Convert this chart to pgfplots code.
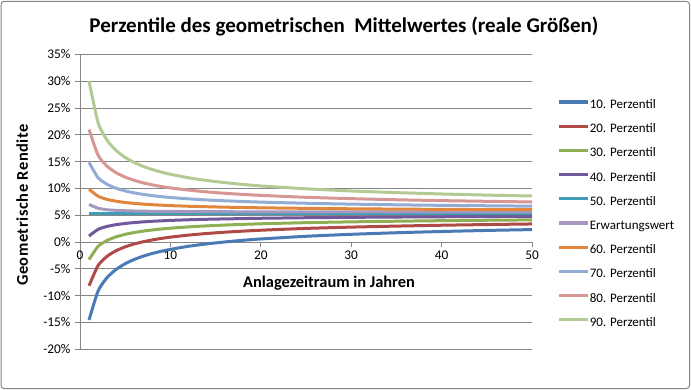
\documentclass[border=0pt]{standalone}
\usepackage{pgfplots}
\pgfplotsset{compat=1.18}
\usepackage{pgfplotstable}
\usepackage{fontspec}
\setmainfont{Carlito}

\definecolor{axisgray}{RGB}{134,134,134}
\definecolor{c10}{HTML}{4A7AB5}
\definecolor{c20}{HTML}{B04A47}
\definecolor{c30}{HTML}{8FAF54}
\definecolor{c40}{HTML}{71589A}
\definecolor{c50}{HTML}{3F9DB8}
\definecolor{cE}{HTML}{A597C0}
\definecolor{c60}{HTML}{E0863D}
\definecolor{c70}{HTML}{93ACD6}
\definecolor{c80}{HTML}{D69694}
\definecolor{c90}{HTML}{B3CB93}

\pgfplotstableread{
T   p10    p20   p30   p40   p50   E     p60   p70    p80    p90
1  -14.53 -8.16 -3.27  1.12  5.30  7.00  9.86  14.85  20.97  30.00
2   -9.13 -4.38 -0.81  2.36  5.30  6.30  8.54  11.99  16.18  22.26
3   -6.62 -2.66  0.30  2.91  5.30  6.02  7.95  10.76  14.13  18.97
4   -5.10 -1.61  0.97  3.24  5.30  5.90  7.61  10.02  12.92  17.06
5   -4.04 -0.90  1.43  3.46  5.30  5.83  7.37   9.53  12.10  15.77
6   -3.25 -0.36  1.77  3.63  5.30  5.78  7.20   9.16  11.50  14.83
7   -2.63  0.05  2.04  3.76  5.30  5.75  7.07   8.88  11.03  14.10
8   -2.13  0.39  2.25  3.87  5.30  5.73  6.96   8.65  10.66  13.52
9   -1.72  0.67  2.43  3.95  5.30  5.71  6.87   8.46  10.35  13.04
10  -1.37  0.91  2.58  4.03  5.30  5.70  6.79   8.30  10.09  12.63
12  -0.79  1.29  2.82  4.15  5.30  5.68  6.67   8.05   9.68  11.98
14  -0.35  1.59  3.01  4.24  5.30  5.66  6.58   7.85   9.35  11.48
16   0.01  1.83  3.16  4.31  5.30  5.65  6.50   7.69   9.09  11.08
18   0.32  2.03  3.29  4.37  5.30  5.64  6.44   7.56   8.88  10.74
20   0.57  2.20  3.40  4.43  5.30  5.63  6.38   7.44   8.70  10.46
25   1.07  2.54  3.61  4.53  5.30  5.62  6.28   7.23   8.34   9.92
30   1.44  2.78  3.76  4.60  5.30  5.61  6.20   7.07   8.09   9.52
35   1.73  2.97  3.88  4.66  5.30  5.61  6.14   6.94   7.88   9.21
40   1.96  3.13  3.98  4.71  5.30  5.60  6.09   6.84   7.72   8.96
45   2.16  3.26  4.06  4.75  5.30  5.60  6.05   6.76   7.59   8.75
50   2.32  3.37  4.13  4.78  5.30  5.60  6.02   6.69   7.47   8.58
}\data

\begin{document}
\begin{tikzpicture}
\useasboundingbox (0bp,0bp) rectangle (691bp,390bp);
\draw[color=axisgray, line width=1bp, rounded corners=3bp] (1bp,1.5bp) rectangle (689.5bp,388.5bp);
\begin{axis}[
  at={(80bp,40.7bp)}, anchor=south west,
  scale only axis, width=452bp, height=295bp,
  xmin=0, xmax=50, ymin=-20, ymax=35,
  axis x line*=middle, axis y line*=left,
  hide obscured x ticks=false, hide obscured y ticks=false,
  axis line style={color=axisgray, line width=0.8bp, -},
  xtick={0,10,20,30,40,50},
  xticklabels={0,10,20,30,40,50},
  ytick={-20,-15,-10,-5,0,5,10,15,20,25,30,35},
  yticklabels={-20\%,-15\%,-10\%,-5\%,0\%,5\%,10\%,15\%,20\%,25\%,30\%,35\%},
  tick align=outside, major tick length=5bp,
  tick style={color=axisgray, line width=0.8bp},
  ymajorgrids, grid style={color=axisgray, line width=0.8bp},
  ticklabel style={font=\fontsize{13.3bp}{15bp}\selectfont},
  yticklabel style={xshift=-1bp},
  title={Perzentile des geometrischen\ \ Mittelwertes (reale Größen)},
  title style={at={(rel axis cs:0.584,1.075)}, anchor=center, font=\bfseries\fontsize{21bp}{24bp}\selectfont},
  xlabel={Anlagezeitraum in Jahren},
  xlabel style={at={(rel axis cs:0.551,0.225)}, anchor=center, font=\bfseries\fontsize{16.4bp}{18bp}\selectfont},
  ylabel={\addfontfeature{LetterSpace=3.5}Geometrische Rendite},
  ylabel style={at={(rel axis cs:-0.128,0.489)}, anchor=center, rotate=0, font=\bfseries\fontsize{16.4bp}{18bp}\selectfont},
  legend style={at={(rel axis cs:1.055,0.8495)}, anchor=north west, draw=none, fill=none, inner sep=0pt,
    row sep=11.2bp, font=\fontsize{13bp}{15bp}\selectfont,
    nodes={inner sep=0.5bp, text height=9bp, text depth=3bp, anchor=west}},
  legend cell align=left,
  legend image code/.code={\draw[#1, line width=3.2bp] (0bp,3.5bp) -- (29bp,3.5bp);},
  every axis plot/.append style={line width=3bp, line join=round, smooth, tension=0.4},
]
\addplot[c10] table[x=T, y=p10] {\data};
\addlegendentry{10. Perzentil}
\addplot[c20] table[x=T, y=p20] {\data};
\addlegendentry{20. Perzentil}
\addplot[c30] table[x=T, y=p30] {\data};
\addlegendentry{30. Perzentil}
\addplot[c40] table[x=T, y=p40] {\data};
\addlegendentry{40. Perzentil}
\addplot[c50] table[x=T, y=p50] {\data};
\addlegendentry{50. Perzentil}
\addplot[cE] table[x=T, y=E] {\data};
\addlegendentry{Erwartungswert}
\addplot[c60] table[x=T, y=p60] {\data};
\addlegendentry{60. Perzentil}
\addplot[c70] table[x=T, y=p70] {\data};
\addlegendentry{70. Perzentil}
\addplot[c80] table[x=T, y=p80] {\data};
\addlegendentry{80. Perzentil}
\addplot[c90] table[x=T, y=p90] {\data};
\addlegendentry{90. Perzentil}
\end{axis}
\end{tikzpicture}
\end{document}
